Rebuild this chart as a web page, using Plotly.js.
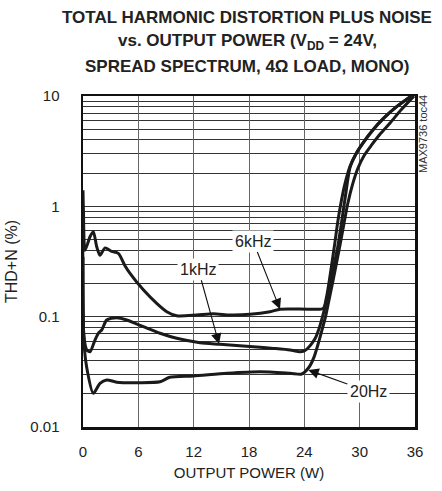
<!DOCTYPE html>
<html>
<head>
<meta charset="utf-8">
<script src="https://cdn.plot.ly/plotly-3.0.1.min.js"></script>
<style>html,body{margin:0;padding:0;background:#fff;}#chart{width:442px;height:491px;}</style>
</head>
<body>
<div id="chart"></div>
<script>
// ---- data ----
const power6k = [0, 0.05, 0.22, 0.76, 1.12, 1.49, 1.84, 2.39, 3.11, 3.83, 4.55, 5.10, 6.54, 7.99, 9.08, 10.16, 12.33, 14.13, 15.97, 18.11, 20.28, 21.37, 24.62, 26.06, 26.4, 26.7, 27.0, 27.3, 27.6, 27.95, 28.4, 28.95, 29.6, 30.4, 31.4, 32.6, 34.0, 35.6];
const thd6k   = [1.4, 0.9, 0.40, 0.53, 0.59, 0.43, 0.36, 0.42, 0.39, 0.375, 0.29, 0.247, 0.175, 0.132, 0.111, 0.102, 0.1035, 0.106, 0.1035, 0.105, 0.111, 0.117, 0.117, 0.119, 0.15, 0.21, 0.31, 0.46, 0.70, 1.05, 1.6, 2.3, 3.0, 3.8, 4.9, 6.3, 8.0, 10.0];

const power1k = [0, 0.08, 0.40, 0.76, 1.30, 1.66, 2.03, 2.57, 3.65, 4.74, 6.54, 8.35, 10.16, 12.69, 14.86, 19.19, 20.64, 22.45, 23.53, 24.0, 24.4, 24.8, 25.2, 25.6, 26.0, 26.4, 26.8, 27.2, 27.6, 27.95, 28.25, 28.52, 28.95, 29.62, 30.42, 31.42, 32.62, 34.02, 35.6];
const thd1k   = [0.9, 0.07, 0.050, 0.048, 0.0614, 0.0707, 0.0757, 0.0933, 0.098, 0.0933, 0.0811, 0.0707, 0.0637, 0.0581, 0.0562, 0.0528, 0.0516, 0.0499, 0.0481, 0.049, 0.052, 0.057, 0.064, 0.078, 0.102, 0.14, 0.20, 0.29, 0.42, 0.64, 0.95, 1.35, 2.25, 3.0, 3.8, 4.9, 6.3, 8.0, 10.0];

const power20 = [0, 0.1, 0.39, 1.12, 1.84, 2.57, 3.65, 6.14, 8.35, 9.4, 11.95, 15.6, 19.2, 22.45, 23.72, 24.18, 24.62, 25.05, 25.48, 25.92, 26.3, 26.7, 27.1, 27.5, 27.9, 28.3, 28.7, 29.2, 29.8, 30.5, 31.3, 32.2, 33.3, 34.5, 35.9];
const thd20   = [0.35, 0.06, 0.0352, 0.0202, 0.0249, 0.0267, 0.0255, 0.0252, 0.0257, 0.0282, 0.029, 0.0307, 0.0317, 0.0307, 0.0302, 0.0323, 0.036, 0.043, 0.056, 0.076, 0.10, 0.145, 0.21, 0.31, 0.46, 0.70, 1.05, 1.55, 2.2, 2.9, 3.6, 4.5, 5.7, 7.5, 10.0];

const xTicks = [0, 6, 12, 18, 24, 30, 36];
const yTicks = [0.01, 0.1, 1, 10];
const yTickText = ['0.01', '0.1', '1', '10'];
const yMinor = [0.02,0.03,0.04,0.05,0.06,0.07,0.08,0.09, 0.2,0.3,0.4,0.5,0.6,0.7,0.8,0.9, 2,3,4,5,6,7,8,9];

const titleLines = [
  'TOTAL HARMONIC DISTORTION PLUS NOISE',
  'vs. OUTPUT POWER (V<sub>DD</sub> = 24V,',
  'SPREAD SPECTRUM, 4Ω LOAD, MONO)'
];

// labels: [text, label x, label y, arrow tip x, arrow tip y]
const labels = [
  ['6kHz', 18.43, 0.485, 21.36, 0.117],
  ['1kHz', 12.50, 0.269, 14.75, 0.0565],
  ['20Hz', 30.94, 0.0209, 24.43, 0.0329]
];

const FONT = 'Liberation Sans, Arial, Helvetica, sans-serif';
const lineStyle = {color: '#1a1a1a', width: 3, shape: 'spline', smoothing: 0.7};

const traces = [
  {x: power6k, y: thd6k, mode: 'lines', line: lineStyle, name: '6kHz'},
  {x: power1k, y: thd1k, mode: 'lines', line: lineStyle, name: '1kHz'},
  {x: power20, y: thd20, mode: 'lines', line: lineStyle, name: '20Hz'}
];

const annotations = labels.map(l => ({
  text: l[0], x: l[3], y: Math.log10(l[4]), xref: 'x', yref: 'y',
  ax: l[1], ay: Math.log10(l[2]), axref: 'x', ayref: 'y',
  showarrow: true, arrowhead: 2, arrowsize: 1.9, arrowwidth: 1.1, arrowcolor: '#111',
  bgcolor: '#ffffff', borderpad: 2,
  font: {family: FONT, size: 16, color: '#222'}
}));
annotations.push({
  text: 'MAX9736 toc44', xref: 'paper', yref: 'paper', x: 1.024, y: 0.885,
  textangle: -90, showarrow: false, xanchor: 'center', yanchor: 'middle',
  font: {family: FONT, size: 11, color: '#333'}
});
// title lines (pixel rows from top; plot spans rows 96..427)
const titleRows = [18, 42, 67];
titleLines.forEach((t, i) => annotations.push({
  text: '<b>' + t + '</b>', xref: 'paper', yref: 'paper',
  x: (247 - 83) / 332, y: (427 - titleRows[i]) / 331,
  xanchor: 'center', yanchor: 'middle', showarrow: false,
  font: {family: FONT, size: 17, color: '#222'}
}));

const layout = {
  width: 442, height: 491,
  margin: {l: 83, r: 27, t: 96, b: 64, pad: 0},
  paper_bgcolor: '#fff', plot_bgcolor: '#fff',
  showlegend: false,
  font: {family: FONT, color: '#222'},
  xaxis: {
    range: [0, 36], tickvals: xTicks, ticktext: xTicks.map(String),
    ticks: 'outside', ticklen: 9, tickcolor: 'rgba(0,0,0,0)',
    tickfont: {family: FONT, size: 15, color: '#222'},
    showgrid: true, gridcolor: '#666', gridwidth: 1,
    showline: true, linecolor: '#111', linewidth: 2.5, mirror: true,
    zeroline: false,
    title: {text: 'OUTPUT POWER (W)', font: {family: FONT, size: 15, color: '#222'}, standoff: 9}
  },
  yaxis: {
    type: 'log', range: [-2, 1], tickvals: yTicks, ticktext: yTickText,
    ticks: 'outside', ticklen: 18, tickcolor: 'rgba(0,0,0,0)',
    tickfont: {family: FONT, size: 15, color: '#222'},
    showgrid: true, gridcolor: '#333', gridwidth: 1,
    minor: {tickvals: yMinor, showgrid: true, gridcolor: '#333', gridwidth: 1, ticks: ''},
    showline: true, linecolor: '#111', linewidth: 2.5, mirror: true,
    zeroline: false,
    title: {text: 'THD+N (%)', font: {family: FONT, size: 16, color: '#222'}, standoff: 9}
  },
  annotations: annotations
};

Plotly.newPlot('chart', traces, layout, {staticPlot: true, displayModeBar: false});
</script>
</body>
</html>
